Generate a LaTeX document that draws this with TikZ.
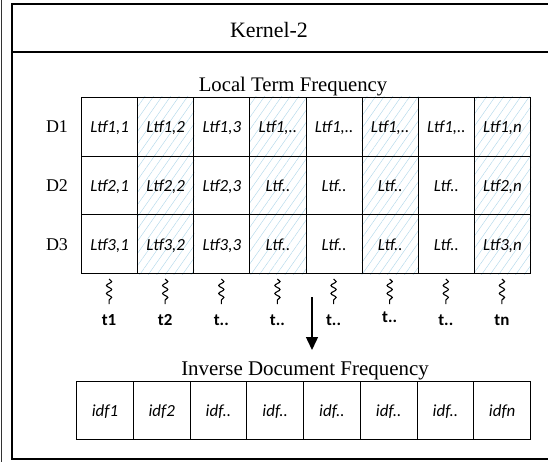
\documentclass[tikz,border=0pt]{standalone}
\usepackage{fontspec}
\setmainfont{Liberation Serif}
\newfontfamily\calfont{Carlito}
\usetikzlibrary{patterns.meta,decorations.pathmorphing,arrows.meta,backgrounds}

\definecolor{hatchblue}{RGB}{178,216,234}

\begin{document}
\begin{tikzpicture}[x=1bp,y=-1bp,
  heading/.style={font=\fontsize{20.8}{24}\selectfont, anchor=base, inner sep=0pt},
  rowlab/.style={font=\fontsize{18}{20}\selectfont, anchor=base, inner sep=0pt},
  cellbox/.style={draw, line width=1.1bp, inner sep=0pt, anchor=north west,
    text height=12bp, text depth=0bp,
    font=\calfont\itshape\fontsize{17}{20}\selectfont},
  ltfcell/.style={cellbox, minimum width=56.125bp, minimum height=58.67bp},
  idfcell/.style={cellbox, minimum width=56.75bp, minimum height=58bp},
  hatched/.style={pattern={Lines[angle=55,distance=7bp,line width=0.45bp]},
    pattern color=hatchblue},
  termlab/.style={font=\calfont\bfseries\fontsize{17}{20}\selectfont,
    anchor=base, inner sep=0pt},
  squiggle/.style={decorate, decoration={snake, segment length=8bp,
    amplitude=2.6bp}, line width=1.1bp},
  frame/.style={line width=1.5bp}
]
\useasboundingbox (0,0) rectangle (548,462);

% thin rule on the far left
\draw[line width=0.9bp, black!80] (1.5,0) -- (1.5,462);

% kernel frame and its header band
\draw[frame] (548,4) -- (12,4) -- (12,459) -- (548,459);
\draw[frame] (12,52) -- (548,52);
\node[heading,font=\fontsize{22}{24}\selectfont] (kernel) at (269,37.5) {Kernel-2};

% local term frequency table
\node[heading] (ltftitle) at (293,92) {Local Term Frequency};

\foreach \r/\lab in {1/D1,2/D2,3/D3}{
  \node[rowlab] (D\r) at (57,{97+(\r-0.5)*58.67+6.5}) {\lab};
}

\foreach \r in {1,2,3}{
  \foreach \c/\txt in {1/{Ltf\r,1},2/{Ltf\r,2},3/{Ltf\r,3},
                       4/{X},5/{X},6/{X},7/{X},8/{Ltf\r,\textit{n}}}{
    \ifnum\r=1
      \def\cell{\if X\txt Ltf1,..\else\txt\fi}%
    \else
      \def\cell{\if X\txt Ltf..\else\txt\fi}%
    \fi
    \node[ltfcell] (c-\r-\c) at ({81+(\c-1)*56.125},{97+(\r-1)*58.67}) {\cell};
    \ifodd\c\else
      \begin{scope}[on background layer]
        \fill[hatched] (c-\r-\c.north west) rectangle (c-\r-\c.south east);
      \end{scope}
    \fi
  }
}

% term labels with wavy leads
\foreach \c/\txt/\yb in {1/t1/325,2/t2/325,3/t../325,4/t../325,
                         5/t../325,6/t../322,7/t../325,8/tn/325}{
  \node[termlab] (t\c) at ({81+(\c-0.5)*56.125},\yb) {\txt};
  \coordinate (sqt\c) at ({81+(\c-0.5)*56.125},279);
  \coordinate (sqb\c) at ({81+(\c-0.5)*56.125},304);
  \draw[squiggle] (sqt\c) -- (sqb\c);
}

% arrow down to the document frequency row
\coordinate (arrtop) at (312,297);
\coordinate (arrtip) at (312,350);
\draw[line width=1.4bp, -{Triangle[length=13bp,width=12bp]}] (arrtop) -- (arrtip);

% inverse document frequency row
\node[heading,font=\fontsize{21}{24}\selectfont] (idftitle) at (305,375) {Inverse Document Frequency};
\foreach \c/\txt in {1/idf1,2/idf2,3/idf..,4/idf..,5/idf..,6/idf..,7/idf..,8/idfn}{
  \node[idfcell] (i\c) at ({76+(\c-1)*56.75},381) {\txt};
}
\end{tikzpicture}
\end{document}
